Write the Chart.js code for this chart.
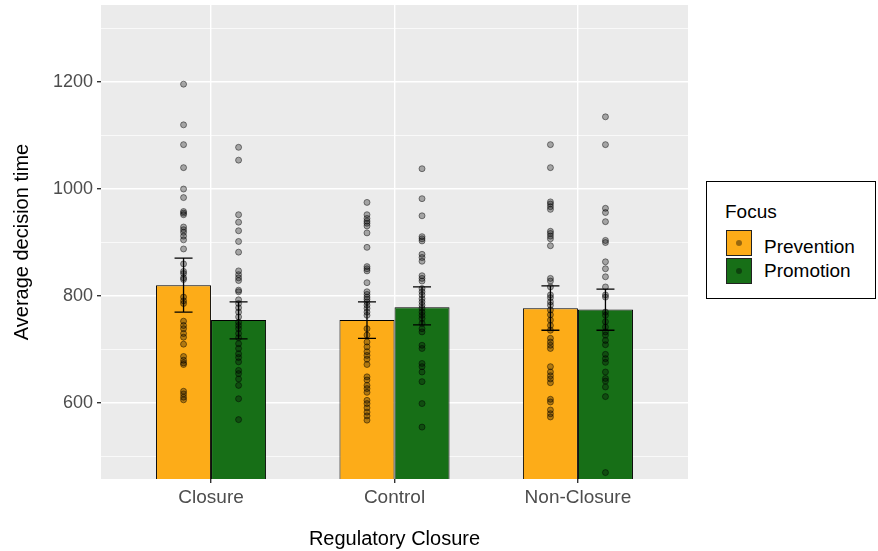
<!DOCTYPE html>
<html>
<head>
<meta charset="utf-8">
<script src="https://cdn.jsdelivr.net/npm/chart.js@4/dist/chart.umd.min.js"></script>
<style>
  body { margin: 0; background: #fff; font-family: "Liberation Sans", Arial, sans-serif; }
  #wrap { position: relative; width: 878px; height: 551px; }
  #legend { position: absolute; left: 706px; top: 181px; width: 168px; height: 116px;
            border: 1px solid #000; background: #fff; }
  .lt { position: absolute; font-size: 19px; color: #000; line-height: 22px; }
  .key { position: absolute; left: 19px; width: 24px; height: 24px; border: 1px solid #222; }
  .key span { position: absolute; left: 9px; top: 9px; width: 6px; height: 6px; border-radius: 50%;
              background: rgba(0,0,0,0.4); }
</style>
</head>
<body>
<div id="wrap">
  <canvas id="data_viz" width="878" height="551"></canvas>
  <div id="legend">
    <div class="lt" style="left:18px; top:19px;">Focus</div>
    <div class="key" style="top:48px; background:#FDAC18;"><span></span></div>
    <div class="lt" style="left:57px; top:54px;">Prevention</div>
    <div class="key" style="top:76px; background:#176F17;"><span></span></div>
    <div class="lt" style="left:57px; top:78px;">Promotion</div>
  </div>
</div>
<script>
var categories = ["Closure", "Control", "Non-Closure"];
var series = ["Prevention", "Promotion"];

// bar means
var preventionMean = [820, 755, 777];
var promotionMean = [755, 779, 775];

// error bars (low, high)
var preventionLow = [770, 721, 736];
var preventionHigh = [871, 789, 819];
var promotionLow = [720, 746, 736];
var promotionHigh = [789, 817, 813];

// individual participants
var closurePrev = [1196, 1120, 1083, 1040, 1000, 984, 958, 955, 952, 929, 924, 919, 912, 905, 888,
  860, 846, 842, 834, 831, 798, 791, 786, 753, 745, 739, 730, 723, 710, 687, 680, 675, 672, 622, 617, 611, 606];
var closureProm = [1078, 1054, 952, 938, 922, 902, 882, 847, 840, 834, 829, 811, 808, 793, 786, 778,
  770, 761, 751, 745, 739, 730, 722, 711, 702, 692, 685, 677, 661, 655, 645, 633, 608, 569];
var controlPrev = [975, 952, 945, 940, 936, 931, 918, 891, 855, 851, 847, 825, 808, 803, 798, 794, 789,
  783, 777, 770, 764, 739, 727, 714, 705, 696, 689, 682, 672, 649, 643, 633, 627, 620, 605, 599, 591, 583, 576, 568];
var controlProm = [1038, 982, 950, 911, 907, 903, 878, 872, 865, 838, 833, 828, 814, 808, 802, 795, 789,
  783, 777, 770, 764, 758, 749, 739, 733, 708, 702, 674, 668, 658, 640, 599, 555];
var nonClosurePrev = [1083, 1040, 976, 972, 967, 962, 921, 917, 912, 907, 894, 833, 828, 817, 802, 797,
  789, 783, 774, 765, 755, 745, 736, 721, 714, 708, 702, 668, 658, 651, 645, 638, 607, 602, 587, 580, 574];
var nonClosureProm = [1135, 1083, 964, 956, 939, 904, 900, 864, 851, 836, 817, 802, 798, 770, 764, 752,
  742, 733, 727, 717, 709, 691, 683, 676, 658, 646, 641, 630, 612, 470];

var yTicks = [500, 600, 700, 800, 900, 1000, 1100, 1200, 1300];
var yLabelled = [600, 800, 1000, 1200];

var DODGE = 0.15;
var prevPts = [];
var promPts = [];
[closurePrev, controlPrev, nonClosurePrev].forEach(function(arr, i) {
  arr.forEach(function(v) { prevPts.push({x: i + 1 - DODGE, y: v}); });
});
[closureProm, controlProm, nonClosureProm].forEach(function(arr, i) {
  arr.forEach(function(v) { promPts.push({x: i + 1 + DODGE, y: v}); });
});

var panelBg = {
  id: 'panelBg',
  beforeDraw: function(chart) {
    var a = chart.chartArea, c = chart.ctx;
    c.save();
    c.fillStyle = '#EBEBEB';
    c.fillRect(a.left, a.top, a.right - a.left, a.bottom - a.top);
    c.restore();
  }
};

var errorBars = {
  id: 'errorBars',
  afterDatasetsDraw: function(chart) {
    var c = chart.ctx, ys = chart.scales.y;
    var sets = [[0, preventionLow, preventionHigh], [1, promotionLow, promotionHigh]];
    c.save();
    c.strokeStyle = '#000';
    c.lineWidth = 1.3;
    sets.forEach(function(s) {
      var meta = chart.getDatasetMeta(s[0]);
      meta.data.forEach(function(bar, i) {
        var x = bar.x, y1 = ys.getPixelForValue(s[1][i]), y2 = ys.getPixelForValue(s[2][i]);
        c.beginPath();
        c.moveTo(x, y1); c.lineTo(x, y2);
        c.moveTo(x - 9, y1); c.lineTo(x + 9, y1);
        c.moveTo(x - 9, y2); c.lineTo(x + 9, y2);
        c.stroke();
      });
    });
    c.restore();
  }
};

var ctx = document.getElementById("data_viz");
var myChart = new Chart(ctx, {
  type: 'bar',
  data: {
    datasets: [{
        label: series[0],
        data: preventionMean.map(function(v, i) { return {x: i + 1, y: v}; }),
        backgroundColor: '#FDAC18',
        borderColor: '#000',
        borderWidth: 1,
        categoryPercentage: 0.6,
        barPercentage: 1,
        order: 2
      }, {
        label: series[1],
        data: promotionMean.map(function(v, i) { return {x: i + 1, y: v}; }),
        backgroundColor: '#176F17',
        borderColor: '#000',
        borderWidth: 1,
        categoryPercentage: 0.6,
        barPercentage: 1,
        order: 2
      }, {
        type: 'scatter',
        data: prevPts,
        backgroundColor: 'rgba(0,0,0,0.3)',
        borderColor: 'rgba(0,0,0,0.45)',
        borderWidth: 1,
        pointRadius: 3,
        order: 1
      }, {
        type: 'scatter',
        data: promPts,
        backgroundColor: 'rgba(0,0,0,0.3)',
        borderColor: 'rgba(0,0,0,0.45)',
        borderWidth: 1,
        pointRadius: 3,
        order: 1
      }
    ]
  },
  options: {
    responsive: false,
    animation: false,
    layout: { padding: { left: 0, right: 190, top: 5, bottom: 0 } },
    plugins: { legend: { display: false }, tooltip: { enabled: false } },
    scales: {
      x: {
        type: 'linear',
        min: 0.4,
        max: 3.6,
        offset: false,
        afterBuildTicks: function(s) { s.ticks = [{value: 1}, {value: 2}, {value: 3}]; },
        afterFit: function(s) { s.height = 72; s.paddingLeft = 0; s.paddingRight = 0; },
        border: { display: false },
        grid: { offset: false, color: '#FFFFFF', lineWidth: 1.4, tickColor: '#333333', tickLength: 4 },
        ticks: {
          padding: 3,
          color: '#4D4D4D',
          font: { family: 'Liberation Sans', size: 19 },
          callback: function(v) { return categories[v - 1]; }
        },
        title: {
          display: true,
          text: 'Regulatory Closure',
          color: '#000',
          font: { family: 'Liberation Sans', size: 20, lineHeight: 1.2 },
          padding: { top: 0, bottom: 0 }
        }
      },
      y: {
        min: 458,
        max: 1344,
        afterBuildTicks: function(s) { s.ticks = yTicks.map(function(v) { return {value: v}; }); },
        afterFit: function(s) { s.width = 101; s.paddingTop = 0; s.paddingBottom = 0; },
        border: { display: false },
        grid: {
          color: '#FFFFFF',
          lineWidth: function(c) { return yLabelled.indexOf(c.tick.value) >= 0 ? 1.4 : 0.7; },
          tickColor: function(c) { return yLabelled.indexOf(c.tick.value) >= 0 ? '#333333' : 'rgba(0,0,0,0)'; },
          tickLength: 4
        },
        ticks: {
          padding: 4,
          color: '#4D4D4D',
          font: { family: 'Liberation Sans', size: 18 },
          callback: function(v) { return yLabelled.indexOf(v) >= 0 ? String(v) : ''; }
        },
        title: {
          display: true,
          text: 'Average decision time',
          color: '#000',
          font: { family: 'Liberation Sans', size: 20, lineHeight: 1.2 },
          padding: { top: 10, bottom: 0 }
        }
      }
    }
  },
  plugins: [panelBg, errorBars]
});
</script>
</body>
</html>
